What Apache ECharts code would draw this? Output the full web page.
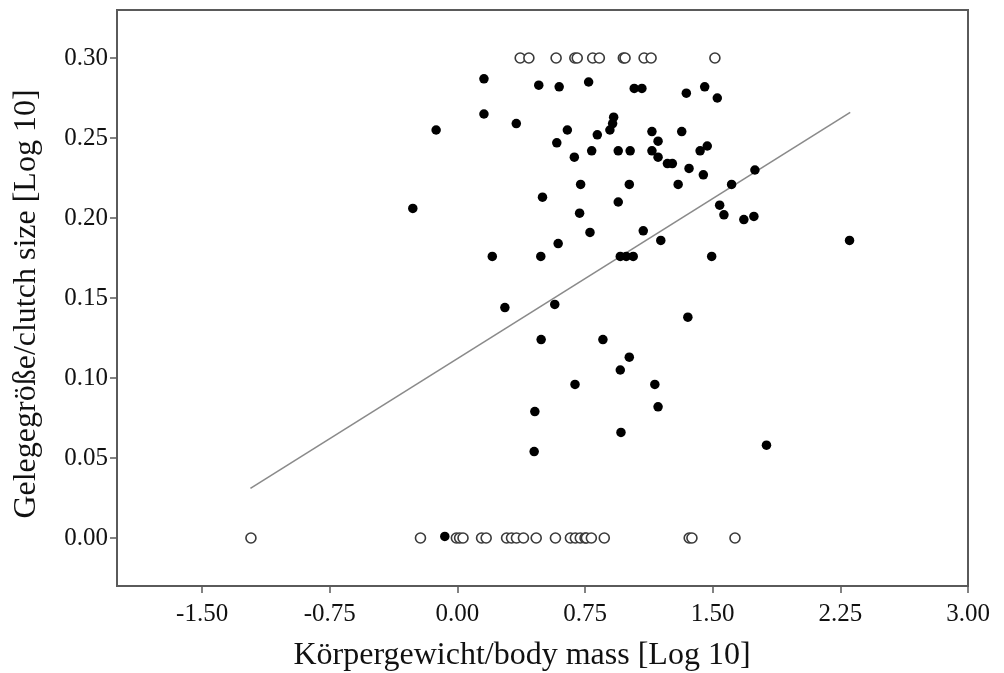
<!DOCTYPE html>
<html>
<head>
<meta charset="utf-8">
<script src="https://cdn.jsdelivr.net/npm/echarts@6/dist/echarts.min.js"></script>
<style>
html,body{margin:0;padding:0;background:#fff;}
#c{width:1004px;height:673px;}
</style>
</head>
<body>
<div id="c"></div>
<script>
// Filled points (body mass log10, clutch size log10)
const filledX = [0.156,0.478,0.598,0.771,0.156,0.346,-0.125,0.646,0.918,0.912,0.896,0.822,0.584,0.789,0.945,1.015,0.687,0.724,1.010,0.500,-0.262,0.945,0.718,0.779,0.592,0.205,0.490,0.957,0.992,1.033,1.039,1.084,1.345,1.453,1.527,1.143,1.318,1.179,1.143,1.179,1.468,1.426,1.234,1.263,1.361,1.445,1.748,1.297,1.611,1.541,1.566,1.683,1.742,1.092,1.195,2.304,1.494,0.279,0.572,0.492,0.855,1.010,0.957,0.691,0.455,0.961,0.451,1.354,1.160,1.179,1.816,-0.074];
const filledY = [0.287,0.283,0.282,0.285,0.265,0.259,0.255,0.255,0.263,0.259,0.255,0.252,0.247,0.242,0.242,0.242,0.238,0.221,0.221,0.213,0.206,0.210,0.203,0.191,0.184,0.176,0.176,0.176,0.176,0.176,0.281,0.281,0.278,0.282,0.275,0.254,0.254,0.248,0.242,0.238,0.245,0.242,0.234,0.234,0.231,0.227,0.230,0.221,0.221,0.208,0.202,0.199,0.201,0.192,0.186,0.186,0.176,0.144,0.146,0.124,0.124,0.113,0.105,0.096,0.079,0.066,0.054,0.138,0.096,0.082,0.058,0.001];
// Open circles at the upper bound (0.30) and at zero
const openTopX = [0.369,0.420,0.580,0.690,0.704,0.795,0.834,0.975,0.985,1.097,1.138,1.513];
const openTopY = 0.30;
const openZeroX = [-1.213,-0.217,-0.006,0.013,0.033,0.142,0.169,0.289,0.318,0.347,0.388,0.463,0.576,0.664,0.693,0.722,0.750,0.758,0.787,0.863,1.362,1.378,1.631];
const openZeroY = 0.00;
// Regression line end points
const lineX = [-1.216, 2.308];
const lineY = [0.031, 0.266];
// Ticks
const xTicks = [-1.50,-0.75,0.00,0.75,1.50,2.25,3.00];
const yTicks = [0.00,0.05,0.10,0.15,0.20,0.25,0.30];
const xTitle = 'Körpergewicht/body mass [Log 10]';
const yTitle = 'Gelegegröße/clutch size [Log 10]';

const FONT = '"Liberation Serif","Times New Roman",serif';
const filled = filledX.map((x,i)=>[x, filledY[i]]);
const open = openTopX.map(x=>[x, openTopY]).concat(openZeroX.map(x=>[x, openZeroY]));
const line = lineX.map((x,i)=>[x, lineY[i]]);

const chart = echarts.init(document.getElementById('c'), null, {renderer:'canvas'});
chart.setOption({
  animation:false,
  backgroundColor:'#fff',
  grid:{left:117,right:36,top:10,bottom:87,show:true,borderColor:'#5a5a5a',borderWidth:2,backgroundColor:'transparent'},
  xAxis:{
    type:'value',min:-2,max:3,
    axisLine:{show:true,onZero:false,lineStyle:{color:'#5a5a5a',width:2}},
    axisTick:{show:true,customValues:xTicks,length:7,lineStyle:{color:'#5a5a5a',width:1.5}},
    axisLabel:{customValues:xTicks,margin:16,color:'#111',fontFamily:FONT,fontSize:25,formatter:v=>v.toFixed(2)},
    splitLine:{show:false}
  },
  yAxis:{
    type:'value',min:-0.03,max:0.33,
    axisLine:{show:true,onZero:false,lineStyle:{color:'#5a5a5a',width:2}},
    axisTick:{show:true,customValues:yTicks,length:7,lineStyle:{color:'#5a5a5a',width:1.5}},
    axisLabel:{customValues:yTicks,margin:9,color:'#111',fontFamily:FONT,fontSize:25,formatter:v=>v.toFixed(2)},
    splitLine:{show:false}
  },
  graphic:[
    {type:'text',x:522,y:656,style:{text:xTitle,font:'32px '+FONT,fill:'#111',textAlign:'center',textVerticalAlign:'middle'}},
    {type:'text',rotation:Math.PI/2,x:27,y:304,style:{text:yTitle,font:'32px '+FONT,fill:'#111',textAlign:'center',textVerticalAlign:'middle'}}
  ],
  series:[
    {type:'line',data:line,showSymbol:false,symbol:'none',lineStyle:{color:'#8a8a8a',width:1.6},z:1,silent:true},
    {type:'scatter',data:open,symbol:'circle',symbolSize:10,itemStyle:{color:'#fff',borderColor:'#3a3a3a',borderWidth:1.6,opacity:1},z:2},
    {type:'scatter',data:filled,symbol:'circle',symbolSize:9.5,itemStyle:{color:'#000',opacity:1},z:3}
  ]
});
</script>
</body>
</html>
